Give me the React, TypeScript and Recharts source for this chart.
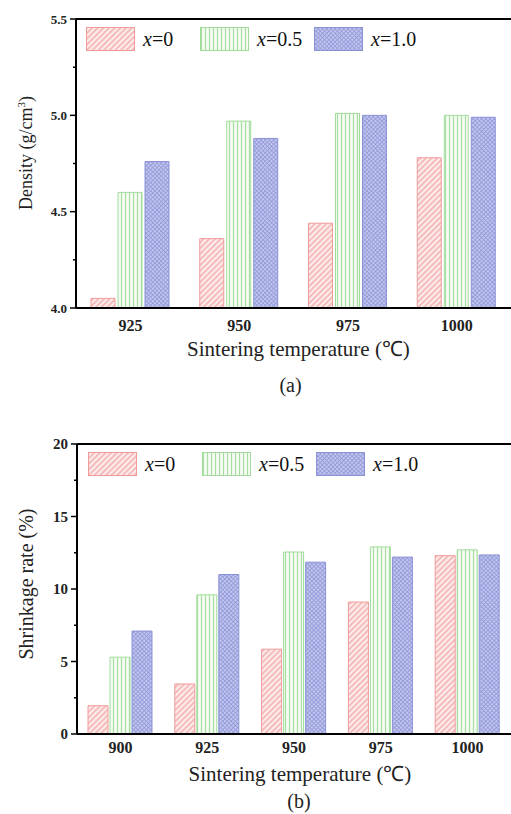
import { BarChart, Bar, XAxis, YAxis, ReferenceLine, Label } from "recharts";

// (a) density
const densityTemps = ["925", "950", "975", "1000"];
const densityX0 = [4.05, 4.36, 4.44, 4.78];
const densityX05 = [4.6, 4.97, 5.01, 5.0];
const densityX10 = [4.76, 4.88, 5.0, 4.99];
const densityTicks = [4.0, 4.25, 4.5, 4.75, 5.0, 5.25, 5.5];

// (b) shrinkage
const shrinkTemps = ["900", "925", "950", "975", "1000"];
const shrinkX0 = [1.95, 3.45, 5.85, 9.1, 12.3];
const shrinkX05 = [5.3, 9.6, 12.55, 12.9, 12.7];
const shrinkX10 = [7.1, 11.0, 11.85, 12.2, 12.35];
const shrinkTicks = [0, 2.5, 5, 7.5, 10, 12.5, 15, 17.5, 20];

const seriesLabels = ["0", "0.5", "1.0"];

const SERIF = "'Liberation Serif', 'Times New Roman', serif";

const seriesStyle = [
  { fill: "url(#hatchRed)", stroke: "#f09a9a" },
  { fill: "url(#linesGreen)", stroke: "#a2dc9c" },
  { fill: "url(#crossBlue)", stroke: "#8a92d6" },
];

const densityData = densityTemps.map((t, i) => ({
  t,
  a: densityX0[i],
  b: densityX05[i],
  c: densityX10[i],
}));

const shrinkData = shrinkTemps.map((t, i) => ({
  t,
  a: shrinkX0[i],
  b: shrinkX05[i],
  c: shrinkX10[i],
}));

const makeYTick =
  (step: number, fmt: (v: number) => string, fontSize: number) => (props: any) => {
    const { x, y, payload } = props;
    const v = payload.value;
    const major = Math.abs(v / step - Math.round(v / step)) < 1e-6;
    const len = major ? 6 : 3;
    return (
      <g>
        <line x1={x - len} y1={y} x2={x} y2={y} stroke="#000" strokeWidth={1.5} />
        {major && (
          <text
            x={x - 9}
            y={y}
            dy="0.35em"
            textAnchor="end"
            fontFamily={SERIF}
            fontWeight="bold"
            fontSize={fontSize}
            fill="#222"
          >
            {fmt(v)}
          </text>
        )}
      </g>
    );
  };

const makeXTick = (dy: number) => (props: any) => {
  const { x, y, payload } = props;
  return (
    <text
      x={x}
      y={y + dy}
      textAnchor="middle"
      fontFamily={SERIF}
      fontWeight="bold"
      fontSize={16}
      fill="#222"
    >
      {payload.value}
    </text>
  );
};

function XTitle({ viewBox, tag, dy1, dy2, dx1, dx2 }: any) {
  const cx = viewBox.x + viewBox.width / 2;
  return (
    <g fontFamily={SERIF} fill="#222">
      <text x={cx + dx1} y={viewBox.y + dy1} textAnchor="middle" fontSize={21}>
        Sintering temperature (℃)
      </text>
      <text x={cx + dx2} y={viewBox.y + dy2} textAnchor="middle" fontSize={20}>
        {tag}
      </text>
    </g>
  );
}

function YTitle({ cx, cy, size, children }: any) {
  return (
    <text
      x={cx}
      y={cy}
      transform={`rotate(-90, ${cx}, ${cy})`}
      textAnchor="middle"
      fontFamily={SERIF}
      fontSize={size}
      fill="#222"
    >
      {children}
    </text>
  );
}

function ChartLegend({ top, left }: { top: number; left: number }) {
  return (
    <div
      style={{
        position: "absolute",
        top,
        left,
        display: "flex",
        fontFamily: SERIF,
        fontSize: 20,
        color: "#111",
      }}
    >
      {seriesLabels.map((lab, i) => (
        <div key={lab} style={{ width: 114, display: "flex", alignItems: "center" }}>
          <svg width={49} height={24}>
            <rect
              x={0.5}
              y={0.5}
              width={48}
              height={23}
              fill={seriesStyle[i].fill}
              stroke={seriesStyle[i].stroke}
            />
          </svg>
          <span style={{ marginLeft: 8 }}>
            <i>x</i>={lab}
          </span>
        </div>
      ))}
    </div>
  );
}

function Bars({ size }: { size: number }) {
  return (
    <>
      {["a", "b", "c"].map((k, i) => (
        <Bar
          key={k}
          dataKey={k}
          barSize={size}
          fill={seriesStyle[i].fill}
          stroke={seriesStyle[i].stroke}
          strokeWidth={1}
          isAnimationActive={false}
        />
      ))}
    </>
  );
}

export default function App() {
  return (
    <div style={{ position: "relative", width: 511, height: 814, background: "#fff" }}>
      <style>{`body{margin:0;overflow:hidden}`}</style>
      <svg width={0} height={0} style={{ position: "absolute" }}>
        <defs>
          <pattern
            id="hatchRed"
            width={4}
            height={4}
            patternUnits="userSpaceOnUse"
            patternTransform="rotate(45)"
          >
            <rect width={4} height={4} fill="#fdecec" />
            <line x1={1} y1={0} x2={1} y2={4} stroke="#f3a2a2" strokeWidth={1.3} />
          </pattern>
          <pattern id="linesGreen" width={4} height={4} patternUnits="userSpaceOnUse">
            <rect width={4} height={4} fill="#f6fcf5" />
            <line x1={1.5} y1={0} x2={1.5} y2={4} stroke="#a6df9f" strokeWidth={1.2} />
          </pattern>
          <pattern
            id="crossBlue"
            width={3}
            height={3}
            patternUnits="userSpaceOnUse"
            patternTransform="rotate(45)"
          >
            <rect width={3} height={3} fill="#c4c8ee" />
            <line x1={0} y1={1.5} x2={3} y2={1.5} stroke="#8f96d8" strokeWidth={0.8} />
            <line x1={1.5} y1={0} x2={1.5} y2={3} stroke="#8f96d8" strokeWidth={0.8} />
          </pattern>
        </defs>
      </svg>

      <div style={{ position: "absolute", left: 0, top: 0 }}>
        <BarChart
          width={511}
          height={400}
          data={densityData}
          margin={{ top: 19, right: 0, left: 0, bottom: 0 }}
          barGap={3}
        >
          <XAxis
            dataKey="t"
            height={92}
            tickLine={false}
            tickSize={0}
            tickMargin={0}
            axisLine={{ stroke: "#000", strokeWidth: 2 }}
            tick={makeXTick(23)}
            interval={0}
          >
            <Label
              content={(p: any) => (
                <XTitle viewBox={p.viewBox} tag="(a)" dy1={48} dy2={84} dx1={5} dx2={-3} />
              )}
            />
          </XAxis>
          <YAxis
            width={76}
            domain={[4, 5.5]}
            ticks={densityTicks}
            interval={0}
            tickLine={false}
            tickSize={0}
            tickMargin={0}
            axisLine={{ stroke: "#000", strokeWidth: 2 }}
            tick={makeYTick(0.5, (v) => v.toFixed(1), 13)}
          >
            <Label
              content={() => (
                <YTitle cx={32} cy={153} size={18}>
                  Density (g/cm
                  <tspan dy={-7} fontSize={11}>
                    3
                  </tspan>
                  <tspan dy={7}>)</tspan>
                </YTitle>
              )}
            />
          </YAxis>
          <ReferenceLine y={5.5} stroke="#000" strokeWidth={2} />
          {Bars({ size: 24 })}
        </BarChart>
      </div>
      <ChartLegend top={27} left={86} />

      <div style={{ position: "absolute", left: 0, top: 420 }}>
        <BarChart
          width={511}
          height={394}
          data={shrinkData}
          margin={{ top: 24, right: 0, left: 0, bottom: 0 }}
          barGap={2}
        >
          <XAxis
            dataKey="t"
            height={80}
            tickLine={false}
            tickSize={0}
            tickMargin={0}
            axisLine={{ stroke: "#000", strokeWidth: 2 }}
            tick={makeXTick(19)}
            interval={0}
          >
            <Label
              content={(p: any) => (
                <XTitle viewBox={p.viewBox} tag="(b)" dy1={47} dy2={74} dx1={6} dx2={5} />
              )}
            />
          </XAxis>
          <YAxis
            width={77}
            domain={[0, 20]}
            ticks={shrinkTicks}
            interval={0}
            tickLine={false}
            tickSize={0}
            tickMargin={0}
            axisLine={{ stroke: "#000", strokeWidth: 2 }}
            tick={makeYTick(5, (v) => String(v), 15)}
          >
            <Label
              content={() => (
                <YTitle cx={33} cy={164} size={20}>
                  Shrinkage rate (%)
                </YTitle>
              )}
            />
          </YAxis>
          <ReferenceLine y={20} stroke="#000" strokeWidth={2} />
          {Bars({ size: 20 })}
        </BarChart>
      </div>
      <ChartLegend top={452} left={88} />
    </div>
  );
}
